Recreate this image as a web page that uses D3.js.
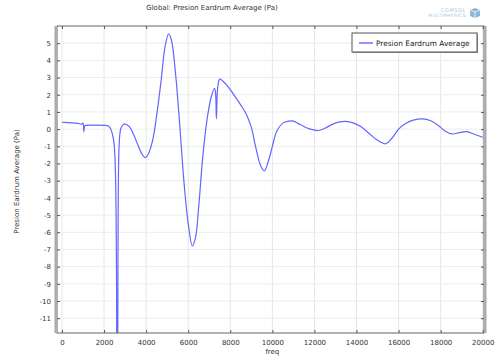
<!DOCTYPE html>
<html>
<head>
<meta charset="utf-8">
<script src="https://cdn.jsdelivr.net/npm/d3@7"></script>
<style>
  body { margin: 0; background: #fff; }
  svg { display: block; font-family: "DejaVu Sans", sans-serif; }
</style>
</head>
<body>
<svg width="496" height="360"></svg>
<script>
var width = 496;
var height = 360;
var margin = { top: 26, right: 12, bottom: 27, left: 57 };

// values
var freq = [0, 250, 500, 750, 950, 1000, 1040, 1080, 1150, 1500, 2000, 2200, 2300, 2400, 2480, 2540, 2590, 2625, 2660, 2700, 2750, 2800, 2900, 3000, 3200, 3400, 3600, 3800, 3970, 4100, 4300, 4500, 4700, 4900, 5070, 5200, 5400, 5600, 5800, 6000, 6200, 6350, 6500, 6700, 6900, 7100, 7250, 7300, 7340, 7400, 7490, 7600, 7800, 8000, 8250, 8500, 8750, 9000, 9200, 9450, 9620, 9800, 10000, 10200, 10500, 10800, 10950, 11200, 11500, 11800, 12200, 12500, 12800, 13200, 13500, 13800, 14200, 14600, 15000, 15390, 15700, 16000, 16300, 16700, 17150, 17500, 17900, 18200, 18530, 18900, 19240, 19600, 20000];
var pressure = [0.40, 0.38, 0.36, 0.33, 0.30, 0.36, -0.15, 0.18, 0.22, 0.23, 0.22, 0.18, 0.05, -0.3, -0.9, -2.5, -8, -30, -8, -1.5, -0.3, 0.05, 0.25, 0.30, 0.15, -0.3, -0.9, -1.45, -1.65, -1.45, -0.7, 0.8, 2.7, 4.8, 5.55, 5.2, 3.2, 0.2, -3.1, -5.5, -6.8, -6.3, -4.5, -1.5, 0.6, 1.9, 2.38, 2.1, 0.6, 2.4, 2.9, 2.85, 2.6, 2.3, 1.85, 1.4, 0.9, 0.1, -1.0, -2.15, -2.43, -1.9, -1.0, -0.15, 0.35, 0.47, 0.48, 0.35, 0.15, 0.0, -0.08, 0.05, 0.25, 0.42, 0.45, 0.38, 0.15, -0.25, -0.65, -0.85, -0.5, 0.0, 0.3, 0.52, 0.6, 0.5, 0.2, -0.1, -0.28, -0.2, -0.15, -0.3, -0.47];
var xTicks = [0, 2000, 4000, 6000, 8000, 10000, 12000, 14000, 16000, 18000, 20000];
var yTicks = [5, 4, 3, 2, 1, 0, -1, -2, -3, -4, -5, -6, -7, -8, -9, -10, -11];

var svg = d3.select("svg");
var iw = width - margin.left - margin.right;
var ih = height - margin.top - margin.bottom;

var x = d3.scaleLinear().domain([-237, 20060]).range([margin.left, margin.left + iw]);
var y = d3.scaleLinear().domain([-11.86, 6.0]).range([margin.top + ih, margin.top]);

// title + logo
svg.append("text")
    .attr("x", 212).attr("y", 10)
    .attr("text-anchor", "middle")
    .style("font-size", "7px").style("fill", "#333")
    .text("Global: Presion Eardrum Average (Pa)");
svg.append("text")
    .attr("x", 466).attr("y", 12).attr("text-anchor", "end")
    .style("font-size", "5px").style("fill", "#a9c6dc").style("letter-spacing", "0.6px")
    .text("COMSOL");
svg.append("text")
    .attr("x", 466).attr("y", 17).attr("text-anchor", "end")
    .style("font-size", "4.6px").style("fill", "#a9c6dc").style("letter-spacing", "0.4px")
    .text("MULTIPHYSICS");
svg.append("path")
    .attr("d", "M470,10 L475,8 L480,10 L480,16 L475,18 L470,16 Z")
    .style("fill", "#8db7d6");
svg.append("path")
    .attr("d", "M470,10 L475,12 L480,10 M475,12 L475,18")
    .style("fill", "none").style("stroke", "#fff").style("stroke-width", 0.7);

// grid
var grid = svg.append("g");
grid.selectAll(".gx").data(xTicks).enter().append("line")
    .attr("x1", function (d) { return x(d); }).attr("x2", function (d) { return x(d); })
    .attr("y1", margin.top).attr("y2", margin.top + ih)
    .style("stroke", "#e6e6e6").style("stroke-width", 1);
grid.selectAll(".gy").data(yTicks).enter().append("line")
    .attr("x1", margin.left).attr("x2", margin.left + iw)
    .attr("y1", function (d) { return y(d); }).attr("y2", function (d) { return y(d); })
    .style("stroke", "#ececec").style("stroke-width", 1);

// curve
svg.append("clipPath").attr("id", "clip")
    .append("rect")
    .attr("x", margin.left).attr("y", margin.top)
    .attr("width", iw).attr("height", ih);

var data = freq.map(function (f, i) { return [f, pressure[i]]; });
var line = d3.line()
    .x(function (d) { return x(d[0]); })
    .y(function (d) { return y(d[1]); })
    .curve(d3.curveCatmullRom.alpha(0.5));

svg.append("path")
    .datum(data)
    .attr("clip-path", "url(#clip)")
    .attr("d", line)
    .style("fill", "none")
    .style("stroke", "#6464ff")
    .style("stroke-width", 1.2);

// axes with inward ticks on all sides
var fmt = function (d) { return String(d).replace("\u2212", "-"); };
svg.append("g").attr("transform", "translate(0," + (margin.top + ih) + ")")
    .call(d3.axisBottom(x).tickValues(xTicks).tickSizeInner(-3).tickSizeOuter(0).tickPadding(7).tickFormat(fmt));
svg.append("g").attr("transform", "translate(" + margin.left + ",0)")
    .call(d3.axisLeft(y).tickValues(yTicks).tickSizeInner(-3).tickSizeOuter(0).tickPadding(6).tickFormat(fmt));
svg.append("g").attr("transform", "translate(0," + margin.top + ")")
    .call(d3.axisTop(x).tickValues(xTicks).tickSizeInner(-3).tickSizeOuter(0).tickFormat(""));
svg.append("g").attr("transform", "translate(" + (margin.left + iw) + ",0)")
    .call(d3.axisRight(y).tickValues(yTicks).tickSizeInner(-3).tickSizeOuter(0).tickFormat(""));

svg.selectAll(".domain").remove();
svg.selectAll(".tick line").style("stroke", "#555");
svg.selectAll(".tick text").style("font-size", "7px").style("fill", "#333")
    .style("font-family", "'DejaVu Sans', sans-serif");

// frame
svg.append("rect")
    .attr("x", margin.left).attr("y", margin.top)
    .attr("width", iw).attr("height", ih)
    .style("fill", "none").style("stroke", "#666").style("stroke-width", 1);
svg.append("line")
    .attr("x1", margin.left - 1.5).attr("x2", margin.left - 1.5)
    .attr("y1", margin.top).attr("y2", margin.top + ih)
    .style("stroke", "#aaa").style("stroke-width", 2);
svg.append("line")
    .attr("x1", margin.left + iw + 1.5).attr("x2", margin.left + iw + 1.5)
    .attr("y1", margin.top).attr("y2", margin.top + ih)
    .style("stroke", "#aaa").style("stroke-width", 2);

// axis titles
svg.append("text")
    .attr("x", x(10000)).attr("y", 354)
    .attr("text-anchor", "middle")
    .style("font-size", "7px").style("fill", "#333")
    .text("freq");
svg.append("text")
    .attr("transform", "translate(19," + (margin.top + ih / 2 + 2) + ")rotate(-90)")
    .attr("text-anchor", "middle")
    .style("font-size", "7px").style("fill", "#333")
    .text("Presion Eardrum Average (Pa)");

// legend
var lg = svg.append("g");
lg.append("rect").attr("x", 353).attr("y", 34).attr("width", 125).attr("height", 19)
    .style("fill", "#999");
lg.append("rect").attr("x", 352).attr("y", 33).attr("width", 125).attr("height", 19)
    .style("fill", "#fff").style("stroke", "#555").style("stroke-width", 1);
lg.append("line").attr("x1", 359).attr("x2", 373).attr("y1", 43).attr("y2", 43)
    .style("stroke", "#7070ff").style("stroke-width", 1.5);
lg.append("text").attr("x", 376).attr("y", 45.5)
    .style("font-size", "7.4px").style("fill", "#222")
    .text("Presion Eardrum Average");
</script>
</body>
</html>
